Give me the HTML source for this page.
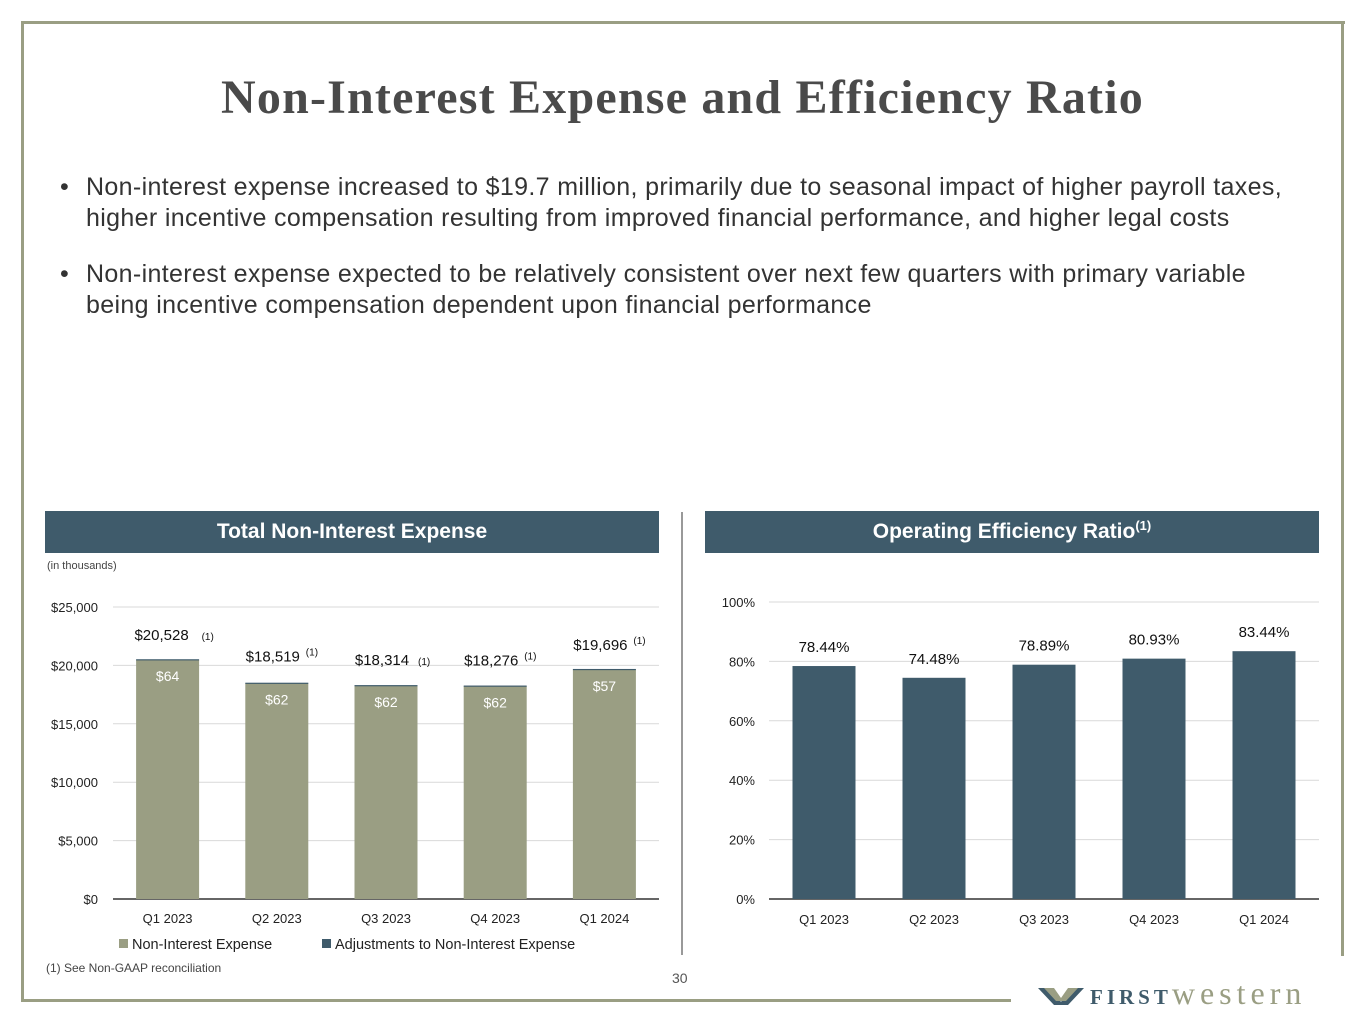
<!DOCTYPE html>
<html><head><meta charset="utf-8">
<style>
html,body{margin:0;padding:0;background:#fff;}
body{width:1365px;height:1024px;position:relative;overflow:hidden;font-family:"Liberation Sans",sans-serif;}
.abs{position:absolute;}
</style></head>
<body>
<div class="abs" style="left:21px;top:21px;width:3px;height:981px;background:#9a9e83"></div>
<div class="abs" style="left:21px;top:21px;width:1324px;height:3px;background:#9a9e83"></div>
<div class="abs" style="left:1341px;top:21px;width:3px;height:935px;background:#9a9e83"></div>
<div class="abs" style="left:21px;top:999px;width:990px;height:3px;background:#9a9e83"></div>

<div class="abs" style="left:0;top:70px;width:1365px;text-align:center;font-family:'Liberation Serif',serif;font-weight:bold;font-size:48px;letter-spacing:1.2px;color:#4a4a4a">Non-Interest Expense and Efficiency Ratio</div>

<div class="abs" style="left:60px;top:172px;width:1250px;font-size:25px;letter-spacing:0.35px;line-height:31px;color:#333">
<span style="position:absolute;left:0">•</span><div style="margin-left:26px">Non-interest expense increased to $19.7 million, primarily due to seasonal impact of higher payroll taxes, higher incentive compensation resulting from improved financial performance, and higher legal costs</div></div>
<div class="abs" style="left:60px;top:259px;width:1250px;font-size:25px;letter-spacing:0.35px;line-height:31px;color:#333">
<span style="position:absolute;left:0">•</span><div style="margin-left:26px">Non-interest expense expected to be relatively consistent over next few quarters with primary variable being incentive compensation dependent upon financial performance</div></div>

<div class="abs" style="left:45px;top:511px;width:614px;height:42px;background:#3f5b6b;color:#fff;font-weight:bold;font-size:21px;line-height:42px;text-align:center">Total Non-Interest Expense</div>
<div class="abs" style="left:705px;top:511px;width:614px;height:42px;background:#3f5b6b;color:#fff;font-weight:bold;font-size:21px;line-height:42px;text-align:center">Operating Efficiency Ratio<sup style="font-size:13px;line-height:0">(1)</sup></div>
<div class="abs" style="left:681px;top:512px;width:2px;height:443px;background:#999"></div>
<div class="abs" style="left:47px;top:560px;font-size:11px;color:#444">(in thousands)</div>
<div class="abs" style="left:46px;top:961px;font-size:12px;color:#444">(1) See Non-GAAP reconciliation</div>
<div class="abs" style="left:672px;top:970px;font-size:14px;color:#555">30</div>
<div class="abs" style="left:1038px;top:975px;font-family:'Liberation Serif',serif;white-space:nowrap">
<svg width="46" height="22" style="vertical-align:-3px"><polygon points="0,3 14,3 23,17 32,3 46,3 30,20 16,20" fill="#3f5b6b"/><polygon points="6,3 16,3 23,13 30,3 40,3 28,16 18,16" fill="#9a9e83"/></svg><span style="color:#3f5b6b;font-weight:bold;font-size:21px;letter-spacing:4px;margin-left:6px">FIRST</span><span style="color:#9a9e83;font-size:32px;letter-spacing:5px">western</span></div>

<svg class="abs" style="left:0;top:0" width="1365" height="1024" id="charts"></svg>

<script>
const categories=["Q1 2023","Q2 2023","Q3 2023","Q4 2023","Q1 2024"];
const expenseTotals=[20528,18519,18314,18276,19696];
const adjustments=[64,62,62,62,57];
const totalLabels=["$20,528","$18,519","$18,314","$18,276","$19,696"];
const adjLabels=["$64","$62","$62","$62","$57"];
const expTicks=[0,5000,10000,15000,20000,25000];
const expTickLabels=["$0","$5,000","$10,000","$15,000","$20,000","$25,000"];
const ratios=[78.44,74.48,78.89,80.93,83.44];
const ratioLabels=["78.44%","74.48%","78.89%","80.93%","83.44%"];
const ratioTicks=[0,20,40,60,80,100];

const NS="http://www.w3.org/2000/svg";
const svg=document.getElementById('charts');
function mk(tag,attrs,text){const e=document.createElementNS(NS,tag);for(const k in attrs)e.setAttribute(k,attrs[k]);if(text!==undefined)e.textContent=text;svg.appendChild(e);return e;}
const F='"Liberation Sans",sans-serif';

const lx0=113,lx1=659,ly0=899,ly1=607;
const ly=v=>ly0-(v/25000)*(ly0-ly1);
const lx=i=>lx0+(lx1-lx0)*(i+0.5)/categories.length;
expTicks.forEach((t,i)=>{
  const g=mk('line',{x1:lx0,x2:lx1,y1:ly(t),y2:ly(t),stroke:i==0?'#333':'#d9d9d9','stroke-width':i==0?1.5:1});
  
  
  const l=mk('text',{x:98,y:ly(t)+5,'text-anchor':'end','font-family':F,'font-size':13,fill:'#222'},expTickLabels[i]);
  
  
});
const labYOff=[-19,-21,-20,-20,-19];
const supDx=[34,29,32,29,29];
categories.forEach((c,i)=>{
  const x=lx(i),w=63,base=expenseTotals[i]-adjustments[i];
  const b=mk('rect',{x:x-w/2,y:ly(base),width:w,height:ly0-ly(base),fill:'#9a9e83'});
  
  
  const a=mk('rect',{x:x-w/2,y:ly(expenseTotals[i]),width:w,height:Math.max(1.2,ly(base)-ly(expenseTotals[i])),fill:'#3f5b6b'});
  
  
  const al=mk('text',{x:x,y:ly(expenseTotals[i])+22,'text-anchor':'middle','font-family':F,'font-size':14,fill:'#fff'},adjLabels[i]);
  
  
  const tl=mk('text',{x:x-(i==0?6:4),y:ly(expenseTotals[i])+labYOff[i],'text-anchor':'middle','font-family':F,'font-size':15,fill:'#111'},totalLabels[i]);
  
  
  const s=mk('text',{x:x+supDx[i],y:ly(expenseTotals[i])+labYOff[i]-(i==0||i==2?0:6),'text-anchor':'start','font-family':F,'font-size':10,fill:'#111'},'(1)');
  
  
  const xl=mk('text',{x:x,y:923,'text-anchor':'middle','font-family':F,'font-size':13,fill:'#222'},c);
  
  
});
let r=mk('rect',{x:119,y:939,width:9,height:9,fill:'#9a9e83'});


let t=mk('text',{x:132,y:949,'font-family':F,'font-size':14.5,fill:'#222'},'Non-Interest Expense');


r=mk('rect',{x:322,y:939,width:9,height:9,fill:'#3f5b6b'});


t=mk('text',{x:335,y:949,'font-family':F,'font-size':14.5,fill:'#222'},'Adjustments to Non-Interest Expense');



const rx0=769,rx1=1319,ry0=899,ry1=602;
const ry=v=>ry0-(v/100)*(ry0-ry1);
const rx=i=>rx0+(rx1-rx0)*(i+0.5)/categories.length;
ratioTicks.forEach((tk,i)=>{
  const g=mk('line',{x1:rx0,x2:rx1,y1:ry(tk),y2:ry(tk),stroke:i==0?'#333':'#d9d9d9','stroke-width':i==0?1.5:1});
  
  
  const l=mk('text',{x:755,y:ry(tk)+5,'text-anchor':'end','font-family':F,'font-size':13,fill:'#222'},tk+'%');
  
  
});
categories.forEach((c,i)=>{
  const x=rx(i),w=63;
  const b=mk('rect',{x:x-w/2,y:ry(ratios[i]),width:w,height:ry0-ry(ratios[i]),fill:'#3f5b6b'});
  
  
  const l=mk('text',{x:x,y:ry(ratios[i])-14,'text-anchor':'middle','font-family':F,'font-size':15,fill:'#111'},ratioLabels[i]);
  
  
  const xl=mk('text',{x:x,y:924,'text-anchor':'middle','font-family':F,'font-size':13,fill:'#222'},c);
  
  
});
</script>
</body></html>
